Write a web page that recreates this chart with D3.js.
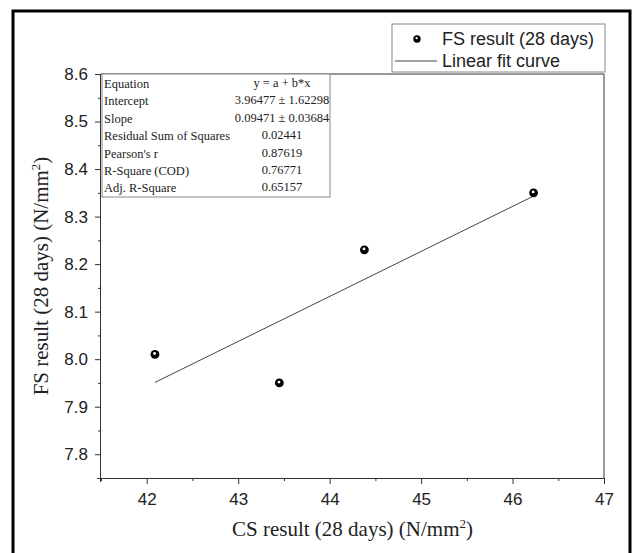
<!DOCTYPE html>
<html>
<head>
<meta charset="utf-8">
<script src="https://cdn.jsdelivr.net/npm/d3@7"></script>
<style>
  html, body { margin: 0; padding: 0; background: #fff; }
  svg { display: block; }
</style>
</head>
<body>
<div id="chart"></div>
<script>
// CS vs FS (28 days) measurements
const csValues = [42.09, 43.45, 44.38, 46.23];
const fsValues = [8.01, 7.95, 8.23, 8.35];

// linear fit y = a + b*x
const fitIntercept = 3.96477;
const fitSlope = 0.09471;

const statLabels = ['Equation', 'Intercept', 'Slope', 'Residual Sum of Squares', "Pearson's r", 'R-Square (COD)', 'Adj. R-Square'];
const statValues = ['y = a + b*x', '3.96477 \u00b1 1.62298', '0.09471 \u00b1 0.03684', '0.02441', '0.87619', '0.76771', '0.65157'];

const xTicks = [42, 43, 44, 45, 46, 47];
const xMinor = [41.5, 42.5, 43.5, 44.5, 45.5, 46.5];
const yTicks = [7.8, 7.9, 8.0, 8.1, 8.2, 8.3, 8.4, 8.5, 8.6];
const yMinor = [7.75, 7.85, 7.95, 8.05, 8.15, 8.25, 8.35, 8.45, 8.55];

const legendLabels = ['FS result (28 days)', 'Linear fit curve'];

const W = 633, H = 553;
const plot = { left: 101, right: 604, top: 74, bottom: 478 };
const serif = '"Liberation Serif", "Times New Roman", serif';
const sans = '"Liberation Sans", Arial, sans-serif';

const svg = d3.select('#chart').append('svg')
  .attr('width', W)
  .attr('height', H);

// black ball with a small white highlight
function ball(sel, r) {
  sel.append('circle').attr('r', r).attr('fill', '#000');
  sel.append('circle').attr('cx', -0.4).attr('cy', -0.9).attr('r', r * 0.32).attr('fill', '#fff');
}

// outer frame (open at the bottom)
svg.append('path')
  .attr('d', `M13,${H} V11 H630 V${H}`)
  .attr('fill', 'none')
  .attr('stroke', '#000')
  .attr('stroke-width', 3);

const x = d3.scaleLinear().domain([41.5, 47]).range([plot.left, plot.right]);
const y = d3.scaleLinear().domain([7.75, 8.6]).range([plot.bottom, plot.top]);

// plot box top + right
svg.append('path')
  .attr('d', `M${plot.left},${plot.top} H${plot.right} V${plot.bottom}`)
  .attr('fill', 'none')
  .attr('stroke', '#333')
  .attr('stroke-width', 1);

// X axis
const gx = svg.append('g')
  .attr('transform', `translate(0,${plot.bottom})`)
  .call(d3.axisBottom(x).tickValues(xTicks).tickSize(6).tickPadding(9).tickFormat(d3.format('d')));
svg.append('g')
  .attr('transform', `translate(0,${plot.bottom})`)
  .call(d3.axisBottom(x).tickValues(xMinor).tickSize(3).tickFormat(''))
  .select('.domain').remove();

// Y axis
const gy = svg.append('g')
  .attr('transform', `translate(${plot.left},0)`)
  .call(d3.axisLeft(y).tickValues(yTicks).tickSize(6).tickPadding(7).tickFormat(d3.format('.1f')));
svg.append('g')
  .attr('transform', `translate(${plot.left},0)`)
  .call(d3.axisLeft(y).tickValues(yMinor).tickSize(3).tickFormat(''))
  .select('.domain').remove();

// axis lines without end caps
gx.select('.domain').attr('d', `M${plot.left - 4},0.5 H${plot.right}`).attr('stroke', '#333');
gy.select('.domain').attr('d', `M-0.5,${plot.bottom + 4} V${plot.top}`).attr('stroke', '#333');
svg.selectAll('.tick line').attr('stroke', '#333');
svg.selectAll('.tick text')
  .attr('fill', '#222')
  .style('font-family', sans)
  .style('font-size', '17px');

// axis titles
const xt = svg.append('text')
  .attr('x', (plot.left + plot.right) / 2)
  .attr('y', 536)
  .attr('text-anchor', 'middle')
  .attr('fill', '#222')
  .style('font-family', serif)
  .style('font-size', '21px')
  .text('CS result (28 days) (N/mm');
xt.append('tspan').attr('dy', -8).style('font-size', '13px').text('2');
xt.append('tspan').attr('dy', 8).text(')');

const yt = svg.append('text')
  .attr('transform', `translate(48,${(plot.top + plot.bottom) / 2}) rotate(-90)`)
  .attr('text-anchor', 'middle')
  .attr('fill', '#222')
  .style('font-family', serif)
  .style('font-size', '21px')
  .text('FS result (28 days) (N/mm');
yt.append('tspan').attr('dy', -8).style('font-size', '13px').text('2');
yt.append('tspan').attr('dy', 8).text(')');

// fit line
const xMin = d3.min(csValues), xMax = d3.max(csValues);
svg.append('line')
  .attr('x1', x(xMin)).attr('y1', y(fitIntercept + fitSlope * xMin))
  .attr('x2', x(xMax)).attr('y2', y(fitIntercept + fitSlope * xMax))
  .attr('stroke', '#444')
  .attr('stroke-width', 1);

// points
svg.selectAll('.pt')
  .data(csValues.map((c, i) => ({ cs: c, fs: fsValues[i] })))
  .enter()
  .append('g')
  .attr('class', 'pt')
  .attr('transform', d => `translate(${x(d.cs)},${y(d.fs)})`)
  .each(function() { ball(d3.select(this), 4.4); });

// stats table
svg.append('rect')
  .attr('x', plot.left + 1).attr('y', plot.top)
  .attr('width', 228).attr('height', 123)
  .attr('fill', '#fff')
  .attr('stroke', '#888')
  .attr('stroke-width', 1);
const rows = svg.append('g')
  .style('font-family', serif)
  .style('font-size', '12.5px')
  .attr('fill', '#222');
rows.selectAll('.lab')
  .data(statLabels)
  .enter().append('text')
  .attr('x', plot.left + 3)
  .attr('y', (d, i) => 88 + i * 17.4)
  .text(d => d);
rows.selectAll('.val')
  .data(statValues)
  .enter().append('text')
  .attr('x', 282)
  .attr('y', (d, i) => 87 + i * 17.4)
  .attr('text-anchor', 'middle')
  .text(d => d);

// legend
svg.append('rect')
  .attr('x', 392).attr('y', 24)
  .attr('width', 213).attr('height', 48)
  .attr('fill', '#fff')
  .attr('stroke', '#888')
  .attr('stroke-width', 1);
ball(svg.append('g').attr('transform', 'translate(417,39)'), 3.7);
svg.append('line')
  .attr('x1', 395).attr('x2', 437)
  .attr('y1', 61).attr('y2', 61)
  .attr('stroke', '#444');
svg.selectAll('.leg')
  .data(legendLabels)
  .enter().append('text')
  .attr('x', 442)
  .attr('y', (d, i) => 45 + i * 22)
  .attr('fill', '#222')
  .style('font-family', sans)
  .style('font-size', '18px')
  .text(d => d);
</script>
</body>
</html>
